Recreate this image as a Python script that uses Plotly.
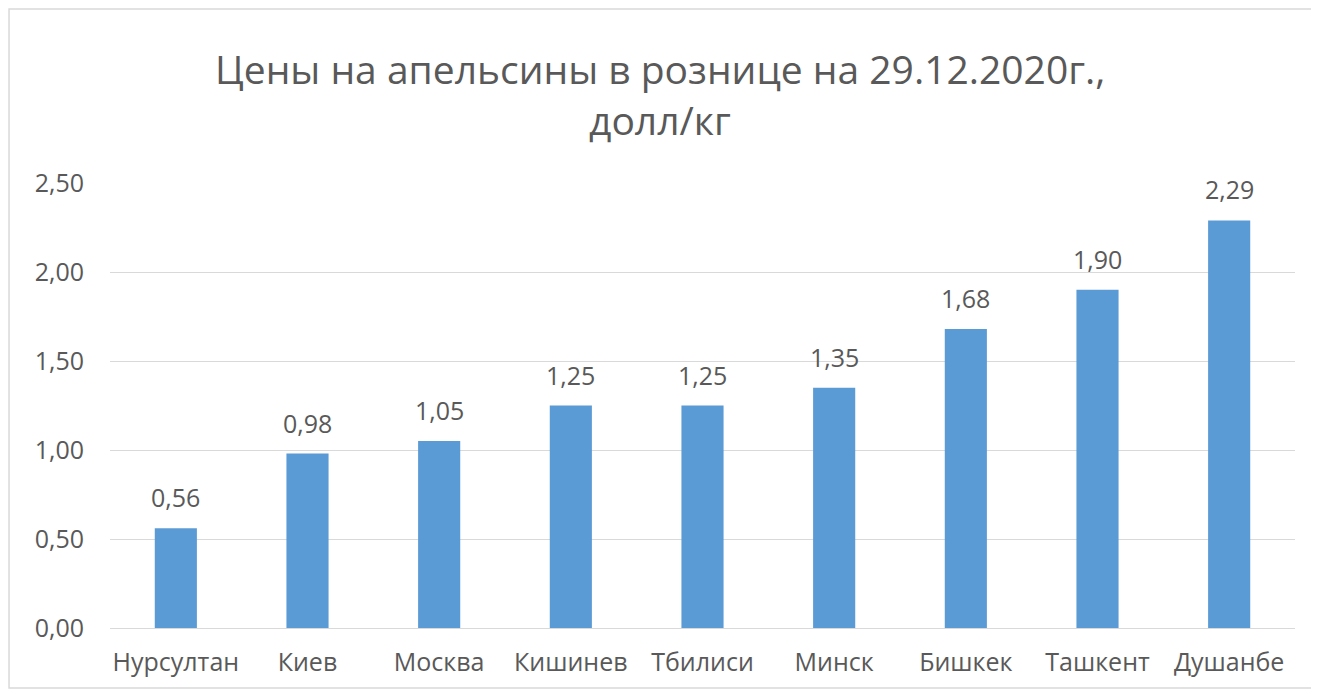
import plotly.graph_objects as go

cities = ["Нурсултан", "Киев", "Москва", "Кишинев", "Тбилиси",
          "Минск", "Бишкек", "Ташкент", "Душанбе"]
prices = [0.56, 0.98, 1.05, 1.25, 1.25, 1.35, 1.68, 1.90, 2.29]
y_ticks = [0, 0.5, 1.0, 1.5, 2.0, 2.5]
title_lines = ["Цены на апельсины в рознице на 29.12.2020г.,", "долл/кг"]

grey = "#595959"
font_family = "Open Sans"

fig = go.Figure()
fig.add_trace(go.Bar(
    x=cities, y=prices,
    marker=dict(color="#5B9BD5", line=dict(width=0)),
))

# value labels, lifted a bit above the bars like in Excel
for c, p in zip(cities, prices):
    fig.add_annotation(x=c, y=p, text=f"{p:.2f}".replace(".", ","),
                       showarrow=False, yanchor="bottom", yshift=12,
                       font=dict(size=25, color=grey, family=font_family))

# title as two annotations to get the wide line spacing
for txt, yy in zip(title_lines, [1.2584, 1.1416]):
    fig.add_annotation(text=txt, x=0.464, y=yy, xref="paper", yref="paper",
                       showarrow=False, xanchor="center", yanchor="middle",
                       font=dict(size=39, color=grey, family=font_family))

# chart border
fig.add_shape(type="rect", xref="paper", yref="paper",
              x0=-0.0852, x1=1.0170, y0=-0.1348, y1=1.391,
              line=dict(color="#D9D9D9", width=1.5))

fig.update_layout(
    width=1311, height=686,
    margin=dict(l=102, r=24, t=175, b=66),
    paper_bgcolor="white", plot_bgcolor="white",
    separators=", ",
    bargap=0.68,
    showlegend=False,
    font=dict(family=font_family, color=grey, size=25),
)
fig.update_xaxes(showline=False, ticks="", ticklabelstandoff=17,
                 tickfont=dict(size=25, color=grey))
fig.update_yaxes(range=[0, 2.5], tickvals=y_ticks, tickformat=".2f",
                 showgrid=True, gridcolor="#D9D9D9", gridwidth=1,
                 zeroline=True, zerolinecolor="#D9D9D9", zerolinewidth=1,
                 ticks="", ticklabelstandoff=25,
                 tickfont=dict(size=25, color=grey))

fig.write_html("out.html")
